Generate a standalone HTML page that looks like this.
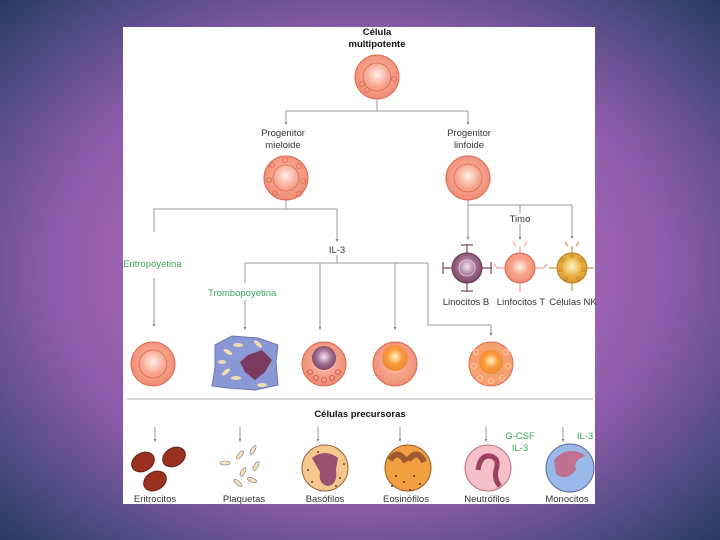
<!DOCTYPE html>
<html><head><meta charset="utf-8"><style>
html,body{margin:0;padding:0;width:720px;height:540px;overflow:hidden}
body{background:radial-gradient(ellipse farthest-corner at 50% 50%,#ac6abb 0%,#a466b6 40%,#8a5aa8 62%,#4a4a80 85%,#283a60 100%)}
svg{position:absolute;left:0;top:0}
text{font-family:"Liberation Sans",sans-serif;font-size:9.5px;fill:#333}
.g{fill:#3aa55a}
.b{font-weight:bold;fill:#111}
</style></head><body>
<svg width="720" height="540" viewBox="0 0 720 540">
<defs>
<radialGradient id="sal" cx="50%" cy="45%" r="55%"><stop offset="0" stop-color="#fff0e8"/><stop offset=".5" stop-color="#f7a58e"/><stop offset="1" stop-color="#f08a72"/></radialGradient>
<radialGradient id="pur" cx="50%" cy="45%" r="55%"><stop offset="0" stop-color="#f4e4f0"/><stop offset=".6" stop-color="#9c6a8a"/><stop offset="1" stop-color="#7a4866"/></radialGradient>
<radialGradient id="org" cx="50%" cy="45%" r="55%"><stop offset="0" stop-color="#fff2c0"/><stop offset=".55" stop-color="#f89a3a"/><stop offset="1" stop-color="#f08a30"/></radialGradient>
<radialGradient id="gold" cx="50%" cy="45%" r="55%"><stop offset="0" stop-color="#fff6c8"/><stop offset=".6" stop-color="#e8b040"/><stop offset="1" stop-color="#d89a30"/></radialGradient>
</defs>
<rect x="123" y="27" width="472" height="477" fill="#fff"/>
<g stroke="#999" stroke-width="1" fill="none">
<path d="M377,99 V111 M286,111 H468 M286,111 V123 M468,111 V123"/>
<path d="M286,200 V209 M154,209 H337 M154,209 V232 M154,278 V325 M337,209 V240 M337,255 V263 M245,263 H428 M245,263 V283 M245,300 V328 M320,263 V328 M395,263 V328 M428,263 V325 H491 V334"/>
<path d="M468,200 V238 M468,205 H572 M520,205 V213 M520,224 V238 M572,205 V237"/>
<path d="M127,399 H593" stroke="#aaa"/>
<path d="M155,427 V440 M240,427 V440 M318,427 V440 M400,427 V440 M486,427 V440 M563,427 V440"/>
</g>
<g fill="#888">
<path d="M284.5,122h3l-1.5,3z M466.5,122h3l-1.5,3z M152.5,324h3l-1.5,3z M335.5,239h3l-1.5,3z M243.5,327h3l-1.5,3z M318.5,327h3l-1.5,3z M393.5,327h3l-1.5,3z M489.5,333h3l-1.5,3z M466.5,237h3l-1.5,3z M518.5,237h3l-1.5,3z M570.5,236h3l-1.5,3z M153.5,439h3l-1.5,3z M238.5,439h3l-1.5,3z M316.5,439h3l-1.5,3z M398.5,439h3l-1.5,3z M484.5,439h3l-1.5,3z M561.5,439h3l-1.5,3z"/>
</g>
<text x="377" y="35" text-anchor="middle" class="b">Célula</text>
<text x="377" y="47" text-anchor="middle" class="b">multipotente</text>
<text x="283" y="136" text-anchor="middle">Progenitor</text>
<text x="283" y="148" text-anchor="middle">mieloide</text>
<text x="469" y="136" text-anchor="middle">Progenitor</text>
<text x="469" y="148" text-anchor="middle">linfoide</text>
<text x="337" y="253" text-anchor="middle">IL-3</text>
<text x="520" y="222" text-anchor="middle">Timo</text>
<text x="123" y="267" class="g">Eritropoyetina</text>
<text x="208" y="296" class="g">Trombopoyetina</text>
<text x="466" y="305" text-anchor="middle">Linocitos B</text>
<text x="521" y="305" text-anchor="middle">Linfocitos T</text>
<text x="573" y="305" text-anchor="middle">Células NK</text>
<text x="360" y="417" text-anchor="middle" class="b">Células precursoras</text>
<text x="520" y="439" text-anchor="middle" class="g">G-CSF</text>
<text x="520" y="451" text-anchor="middle" class="g">IL-3</text>
<text x="585" y="439" text-anchor="middle" class="g">IL-3</text>
<g text-anchor="middle">
<text x="155" y="502">Eritrocitos</text><text x="244" y="502">Plaquetas</text><text x="325" y="502">Basófilos</text><text x="406" y="502">Eosinófilos</text><text x="487" y="502">Neutrófilos</text><text x="567" y="502">Monocitos</text>
</g>
<g stroke="#d86a52" stroke-width="1">
<circle cx="377" cy="77" r="22" fill="url(#sal)"/>
<circle cx="286" cy="178" r="22" fill="url(#sal)"/>
<circle cx="468" cy="178" r="22" fill="url(#sal)"/>
<circle cx="153" cy="364" r="22" fill="url(#sal)"/>
</g>
<g fill="none" stroke="#d86a52" stroke-width="0.8">
<circle cx="377" cy="77" r="14"/><circle cx="286" cy="178" r="13"/><circle cx="468" cy="178" r="14"/><circle cx="153" cy="364" r="14"/>
<circle cx="362" cy="84" r="2.5"/><circle cx="367" cy="90" r="2.5"/><circle cx="394" cy="79" r="2.5"/>
<circle cx="272" cy="165" r="2.5"/><circle cx="285" cy="160" r="2.5"/><circle cx="299" cy="166" r="2.5"/><circle cx="303" cy="181" r="2.5"/><circle cx="299" cy="194" r="2.5"/><circle cx="275" cy="193" r="2.5"/><circle cx="269" cy="180" r="2.5"/>
</g>
<g stroke="#7a4866" stroke-width="1.2" fill="none"><path d="M443,268h9M482,268h10M467,244v9M467,283v9M443,262v12M491,262v12M461,245h12M461,291h12"/></g>
<circle cx="467" cy="268" r="15" fill="url(#pur)" stroke="#6a3858"/>
<circle cx="467" cy="268" r="8" fill="none" stroke="#e8c8d8" stroke-width="0.8"/>
<g stroke="#e88" stroke-width="1" fill="none"><path d="M497,268h8M535,268h9M520,246v7M520,283v9M516,246l-3,-4M524,246l3,-4M497,268l-3,-4M544,268l3,-4"/></g>
<circle cx="520" cy="268" r="15" fill="url(#sal)" stroke="#d86a52"/>
<g stroke="#c08020" stroke-width="1" fill="none"><path d="M549,268h8M587,268h7M572,246v7M572,283v8M568,246l-3,-4M576,246l3,-4"/></g>
<circle cx="572" cy="268" r="15" fill="url(#gold)" stroke="#b88020"/>
<g fill="none" stroke="#c08020" stroke-width="0.6"><circle cx="572" cy="256" r="1.5"/><circle cx="563" cy="260" r="1.5"/><circle cx="581" cy="260" r="1.5"/><circle cx="561" cy="270" r="1.5"/><circle cx="583" cy="270" r="1.5"/><circle cx="566" cy="279" r="1.5"/><circle cx="578" cy="279" r="1.5"/></g>
<path d="M215,345 L232,336 L258,338 L278,345 L276,362 L278,385 L255,390 L228,388 L212,386 L215,368z" fill="#8a98d6" stroke="#6a78b0"/>
<path d="M248,355 L262,350 L272,360 L265,372 L255,380 L245,372 L240,362z" fill="#7a3a5e"/>
<g fill="#f0dcb0"><ellipse cx="228" cy="352" rx="5" ry="2" transform="rotate(30 228 352)"/><ellipse cx="238" cy="345" rx="5" ry="2"/><ellipse cx="226" cy="372" rx="5" ry="2" transform="rotate(-40 226 372)"/><ellipse cx="236" cy="378" rx="5" ry="2"/><ellipse cx="258" cy="344" rx="5" ry="2" transform="rotate(40 258 344)"/><ellipse cx="262" cy="385" rx="5" ry="2"/><ellipse cx="222" cy="362" rx="4" ry="2"/></g>
<circle cx="324" cy="364" r="22" fill="url(#sal)" stroke="#d86a52"/>
<circle cx="324" cy="358" r="12" fill="url(#pur)"/>
<g fill="none" stroke="#c05a50" stroke-width="0.8"><circle cx="310" cy="372" r="2.5"/><circle cx="316" cy="378" r="2.5"/><circle cx="324" cy="380" r="2.5"/><circle cx="332" cy="378" r="2.5"/><circle cx="338" cy="372" r="2.5"/></g>
<circle cx="395" cy="364" r="22" fill="url(#sal)" stroke="#d86a52"/>
<circle cx="395" cy="358" r="13" fill="url(#org)"/>
<g fill="none" stroke="#e8b080" stroke-width="0.8"><circle cx="380" cy="372" r="2.5"/><circle cx="387" cy="378" r="2.5"/><circle cx="395" cy="380" r="2.5"/><circle cx="403" cy="378" r="2.5"/><circle cx="410" cy="372" r="2.5"/></g>
<circle cx="491" cy="364" r="22" fill="#f7a070" stroke="#d87050"/>
<circle cx="491" cy="362" r="12" fill="url(#org)"/>
<g fill="none" stroke="#ffd8a8" stroke-width="0.8"><circle cx="476" cy="352" r="2.5"/><circle cx="506" cy="352" r="2.5"/><circle cx="474" cy="366" r="2.5"/><circle cx="508" cy="366" r="2.5"/><circle cx="480" cy="378" r="2.5"/><circle cx="502" cy="378" r="2.5"/><circle cx="491" cy="381" r="2.5"/></g>
<g fill="#9a3020" stroke="#6a2010"><ellipse cx="143" cy="462" rx="12" ry="9" transform="rotate(-30 143 462)"/><ellipse cx="174" cy="457" rx="12" ry="9" transform="rotate(-30 174 457)"/><ellipse cx="155" cy="481" rx="12" ry="9" transform="rotate(-30 155 481)"/></g>
<g fill="#f6e2c0" stroke="#777" stroke-width="0.6"><ellipse cx="225" cy="463" rx="5" ry="2"/><ellipse cx="240" cy="455" rx="5" ry="2" transform="rotate(-50 240 455)"/><ellipse cx="253" cy="450" rx="5" ry="2" transform="rotate(-60 253 450)"/><ellipse cx="243" cy="472" rx="5" ry="2" transform="rotate(-60 243 472)"/><ellipse cx="256" cy="466" rx="5" ry="2" transform="rotate(-60 256 466)"/><ellipse cx="252" cy="480" rx="5" ry="2" transform="rotate(20 252 480)"/><ellipse cx="238" cy="483" rx="5" ry="2" transform="rotate(40 238 483)"/></g>
<circle cx="325" cy="468" r="23" fill="#f6c890" stroke="#9a6030"/>
<path d="M312,458 Q325,448 338,458 L336,470 Q338,484 328,486 Q318,484 320,472z" fill="#9a5070"/>
<g fill="#6a3a20"><circle cx="308" cy="470" r="1"/><circle cx="312" cy="482" r="1"/><circle cx="340" cy="478" r="1"/><circle cx="344" cy="464" r="1"/><circle cx="318" cy="452" r="1"/><circle cx="336" cy="486" r="1"/></g>
<circle cx="408" cy="468" r="23" fill="#f0a040" stroke="#9a5a20"/>
<path d="M390,460 Q398,448 406,462 M408,460 Q418,448 424,462" stroke="#a05a30" stroke-width="6" fill="none"/>
<g fill="#5a3010"><circle cx="396" cy="476" r="1"/><circle cx="404" cy="482" r="1"/><circle cx="414" cy="476" r="1"/><circle cx="420" cy="484" r="1"/><circle cx="392" cy="486" r="1"/><circle cx="410" cy="490" r="1"/></g>
<circle cx="488" cy="468" r="23" fill="#f6c0c8" stroke="#b07080"/>
<path d="M478,470 Q480,455 490,456 Q500,458 496,470 Q494,480 500,486" stroke="#9a4060" stroke-width="5" fill="none"/>
<circle cx="570" cy="468" r="24" fill="#9ab8e8" stroke="#5a6a9a"/>
<path d="M554,460 Q568,444 586,456 Q572,460 576,470 Q566,482 556,474z" fill="#c07090"/>
</svg>
</body></html>
